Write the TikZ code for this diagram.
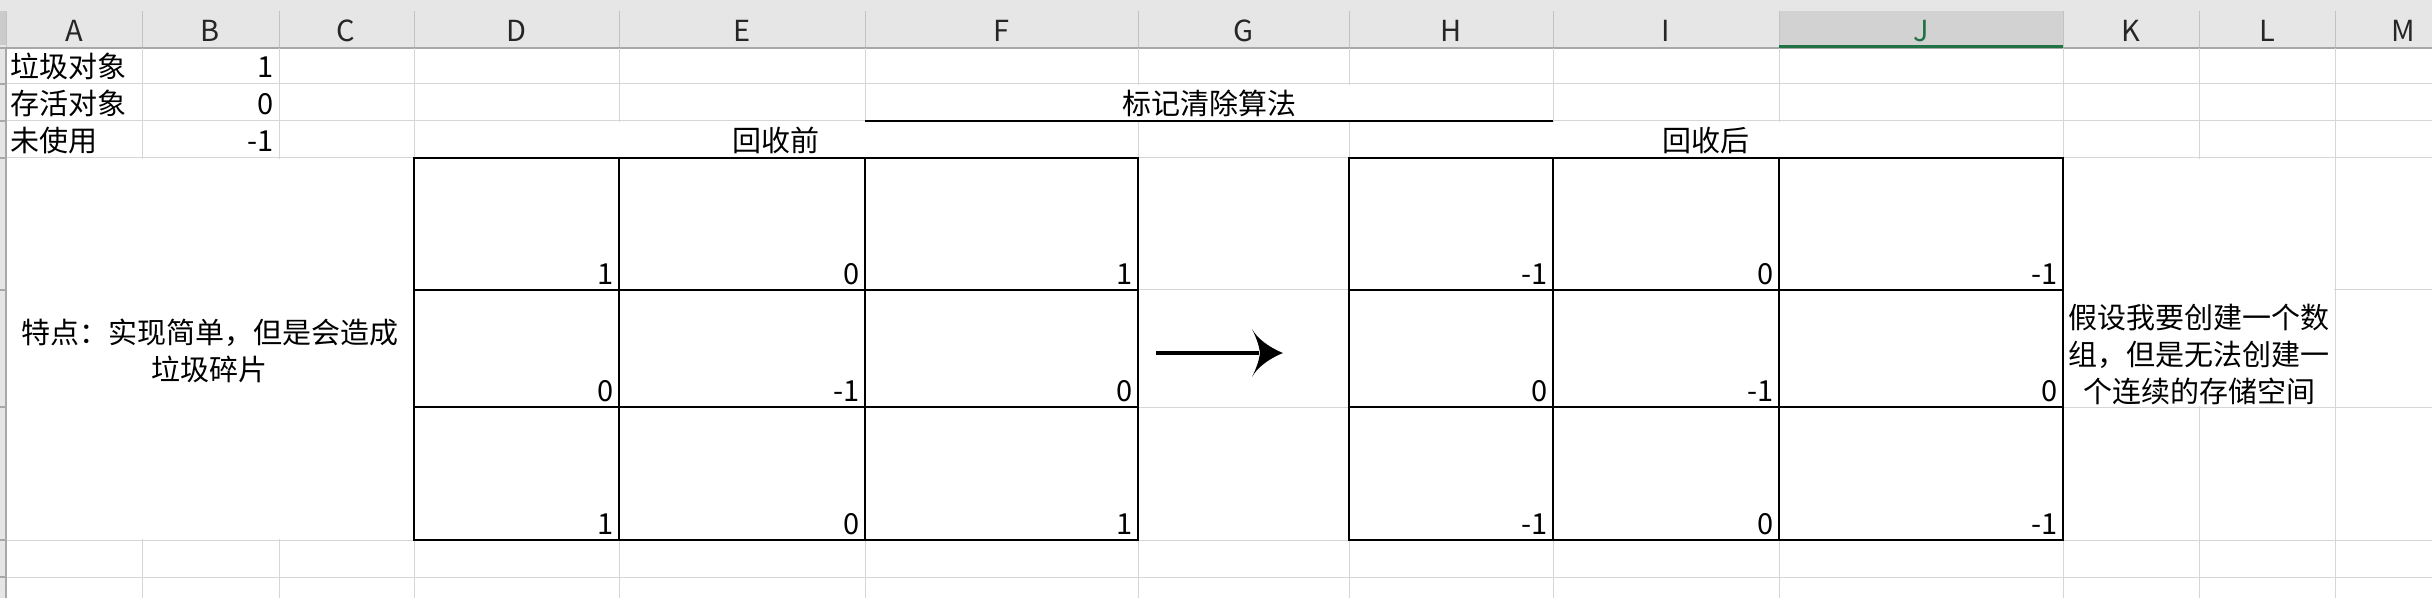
\documentclass[tikz,border=0pt]{standalone}
\usepackage{fontspec}
\setmainfont{Noto Sans CJK SC}
\usetikzlibrary{arrows.meta,positioning}
\definecolor{gridgray}{HTML}{D6D6D6}
\definecolor{headgray}{HTML}{E6E6E6}
\definecolor{headsel}{HTML}{D2D2D2}
\definecolor{headline}{HTML}{A8A8A8}
\definecolor{selgreen}{HTML}{217346}
\tikzset{
  cell/.style={inner sep=0, font=\fontsize{7.25}{9.25}\selectfont},
  val/.style={cell, anchor=base east},
  lbl/.style={cell, anchor=base west},
  title/.style={cell, anchor=base},
  colhead/.style={cell, anchor=base, text=black!85},
  grid line/.style={gridgray, line width=0.25pt},
  border/.style={black, line width=0.4pt},
  bigarrow/.style={line width=1pt, shorten >=6pt}
}

\begin{document}
\begin{tikzpicture}[x=0.25pt,y=-0.25pt]
	\useasboundingbox (0,0) rectangle (2432,598);

	% column headers
	\fill[headgray] (0,0) rectangle (2432,48);
	\fill[headgray] (0,48) rectangle (6,598);
	\fill[headline!60] (0,11) rectangle (6,45);
	\fill[headsel] (1779,11) rectangle (2063,45);
	\foreach \x in {6,142,279,414,619,865,1138,1349,1553,1779,2063,2199,2335}
		\draw[headline!70, line width=0.25pt] (\x,11) -- (\x,48);
	\draw[headline, line width=0.35pt] (0,48) -- (2432,48);
	\fill[selgreen] (1779,45) rectangle (2063,48.5);
	\foreach \x/\c in {74/A,210/B,346/C,516/D,742/E,1001/F,1243/G,1451/H,1666/I,2131/K,2267/L,2403/M}
		\node[colhead] (h\c) at (\x,42) {\c};
	\node[colhead, text=selgreen] (hJ) at (1921,42) {J};

	% sheet grid
	\foreach \x in {142,279,414,619,865,1138,1349,1553,1779,2063,2199,2335}
		\draw[grid line] (\x,48) -- (\x,598);
	\foreach \y in {84,121,158,290,407,540,577} {
		\draw[grid line] (6,\y) -- (2432,\y);
		\draw[headline, line width=0.3pt] (0,\y) -- (6,\y);
	}
	\draw[headline, line width=0.35pt] (6,48) -- (6,598);

	% merged cells
	\fill[white] (866,85) rectangle (1552,120);
	\fill[white] (415,122) rectangle (1137,157);
	\fill[white] (1350,122) rectangle (2062,157);
	\fill[white] (7,159) rectangle (413,539);
	\fill[white] (2064,159) rectangle (2334,406);

	% borders
	\draw[border] (865,121) -- (1553,121);
	\draw[border] (414,158) rectangle (1138,540);
	\draw[border] (1349,158) rectangle (2063,540);
	\foreach \x in {619,865,1553,1779}
		\draw[border] (\x,158) -- (\x,540);
	\foreach \y in {290,407} {
		\draw[border] (414,\y) -- (1138,\y);
		\draw[border] (1349,\y) -- (2063,\y);
	}

	% legend
	\node[lbl] (a1) at (10,78) {垃圾对象};
	\node[val] (b1) at (274,78) {1};
	\node[lbl] (a2) at (10,115) {存活对象};
	\node[val] (b2) at (274,115) {0};
	\node[lbl] (a3) at (10,152) {未使用};
	\node[val] (b3) at (274,152) {-1};

	\node[title] (algo) at (1209,115) {标记清除算法};
	\node[title] (before) at (776,152) {回收前};
	\node[title] (after) at (1706,152) {回收后};

	% before
	\node[val] (d4) at (614,284) {1};
	\node[val] (e4) at (860,284) {0};
	\node[val] (f4) at (1133,284) {1};
	\node[val] (d5) at (614,401) {0};
	\node[val] (e5) at (860,401) {-1};
	\node[val] (f5) at (1133,401) {0};
	\node[val] (d6) at (614,534) {1};
	\node[val] (e6) at (860,534) {0};
	\node[val] (f6) at (1133,534) {1};

	% after
	\node[val] (h4) at (1548,284) {-1};
	\node[val] (i4) at (1774,284) {0};
	\node[val] (j4) at (2058,284) {-1};
	\node[val] (h5) at (1548,401) {0};
	\node[val] (i5) at (1774,401) {-1};
	\node[val] (j5) at (2058,401) {0};
	\node[val] (h6) at (1548,534) {-1};
	\node[val] (i6) at (1774,534) {0};
	\node[val] (j6) at (2058,534) {-1};

	\node[cell, align=center] (feature) at (210,351) {特点：实现简单，但是会造成\\垃圾碎片};
	\node[cell, align=center] (assume) at (2199,354) {假设我要创建一个数\\组，但是无法创建一\\个连续的存储空间};

	\coordinate (arrfrom) at (1156,353);
	\coordinate (arrto) at (1283,353);
	\draw[bigarrow] (arrfrom) -- (arrto);
	\fill[shift={(arrto)}] (0,0) .. controls (-15,-6) and (-26,-15) .. (-31,-24)
		.. controls (-27,-16) and (-24,-8) .. (-23,0)
		.. controls (-24,8) and (-27,16) .. (-31,24)
		.. controls (-26,15) and (-15,6) .. (0,0) -- cycle;
\end{tikzpicture}
\end{document}
